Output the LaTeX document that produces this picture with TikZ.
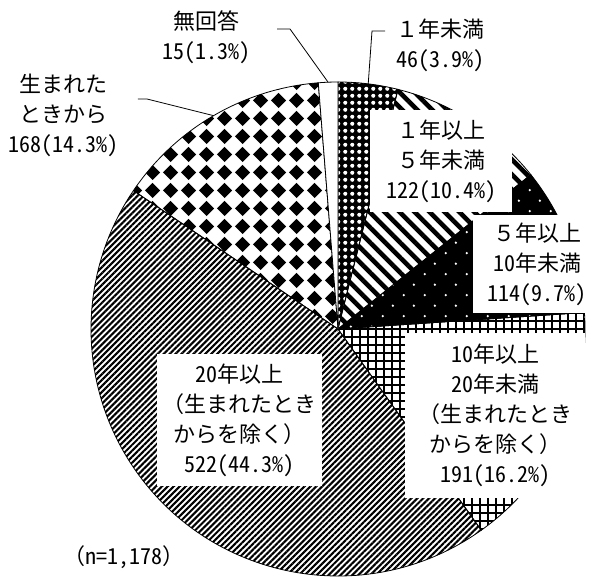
\documentclass[tikz,border=0pt]{standalone}
\usepackage{fontspec}
\setmainfont{Noto Sans CJK JP}
\newfontfamily\hw{Noto Sans CJK JP}[RawFeature=+hwid]
\usetikzlibrary{patterns.meta}

% fill patterns of the slices
\tikzdeclarepattern{
  name=finechecks,
  bounding box={(0pt,0pt) and (6.7pt,6.7pt)},
  tile size={(6.7pt,6.7pt)},
  code={\fill (3.35pt,3.35pt) circle (2.1pt);}
}
\tikzdeclarepattern{
  name=dotlattice,
  bounding box={(0pt,0pt) and (21pt,21.4pt)},
  tile size={(21pt,21.4pt)},
  code={\fill (5pt,5pt) circle (1.3pt) (15.5pt,15.7pt) circle (1.3pt);}
}
\tikzdeclarepattern{
  name=diamonds,
  bounding box={(0pt,0pt) and (18pt,18pt)},
  tile size={(18pt,18pt)},
  code={\fill (1pt,9pt) -- (9pt,17pt) -- (17pt,9pt) -- (9pt,1pt) -- cycle;}
}

\tikzset{
  slice/.style={draw=black,line width=0.8pt},
  yrless1/.style={preaction={fill=black},pattern=finechecks,pattern color=white},
  yr1to5/.style={pattern={Lines[angle=-45,distance=10.6pt,line width=4.6pt]}},
  yr5to10/.style={preaction={fill=black},pattern=dotlattice,pattern color=white},
  yr10to20/.style={pattern={Hatch[angle=0,distance=8pt,line width=2.7pt]}},
  yr20up/.style={pattern={Lines[angle=45,distance=4.2pt,line width=2.1pt]}},
  sincebirth/.style={pattern=diamonds},
  noanswer/.style={fill=white},
  labeltext/.style={font=\fontsize{22}{30}\selectfont,align=center,inner sep=0pt},
  labelbox/.style={labeltext,fill=white}
}

\begin{document}
\begin{tikzpicture}[x=1pt,y=1pt]
  \useasboundingbox (-338,-248) rectangle (263,329);
  \def\rad{247}

  % the slices, clockwise from the top
  \foreach \a/\b/\s in {90/75.94/yrless1, 75.94/38.66/yr1to5, 38.66/3.82/yr5to10,
      3.82/-54.55/yr10to20, -54.55/-214.08/yr20up, -214.08/-265.42/sincebirth,
      -265.42/-270/noanswer}
    \draw [slice,\s] (0,0) -- (\a:\rad) arc [start angle=\a, end angle=\b, radius=\rad] -- cycle;

  % labels in white boxes on the pie
  \node [labelbox, minimum width=142, minimum height=102] (lbl1to5) at (103,168)
    {１年以上\\５年未満\\{\hw 122(10.4\%)}};
  \node [labelbox, minimum width=128, minimum height=98] (lbl5to10) at (199,65)
    {５年以上\\{\hw 10}年未満\\{\hw 114(9.7\%)}};
  \node [labelbox, minimum width=180, minimum height=165] (lbl10to20) at (157,-86.5)
    {{\hw 10}年以上\\{\hw 20}年未満\\（生まれたとき\\からを除く）\\{\hw 191(16.2\%)}};
  \node [labelbox, minimum width=165, minimum height=132] (lbl20up) at (-98.5,-91)
    {{\hw 20}年以上\\（生まれたとき\\からを除く）\\{\hw 522(44.3\%)}};

  % labels outside the pie
  \node [labeltext] (lblnoans) at (-131,292) {無回答\\{\hw 15(1.3\%)}};
  \node [labeltext] (lblless1) at (102,284) {１年未満\\{\hw 46(3.9\%)}};
  \node [labeltext] (lblbirth) at (-274,214) {生まれた\\ときから\\{\hw 168(14.3\%)}};
  \node [labeltext] (lbltotal) at (-214,-228) {（{\hw n=1,178}）};

  % leader lines
  \coordinate (noans-start) at (-61,300);
  \coordinate (noans-knee) at (-48,300);
  \coordinate (noans-tip) at (92.3:\rad);
  \coordinate (less1-start) at (47,298);
  \coordinate (less1-knee) at (34,298);
  \coordinate (less1-tip) at (82.97:\rad);
  \coordinate (birth-start) at (-200,230);
  \coordinate (birth-knee) at (-191,230);
  \coordinate (birth-tip) at (120.25:\rad);
  \foreach \p in {noans,less1,birth}
    \draw [line width=0.8pt] (\p-start) -- (\p-knee) -- (\p-tip);
\end{tikzpicture}
\end{document}
